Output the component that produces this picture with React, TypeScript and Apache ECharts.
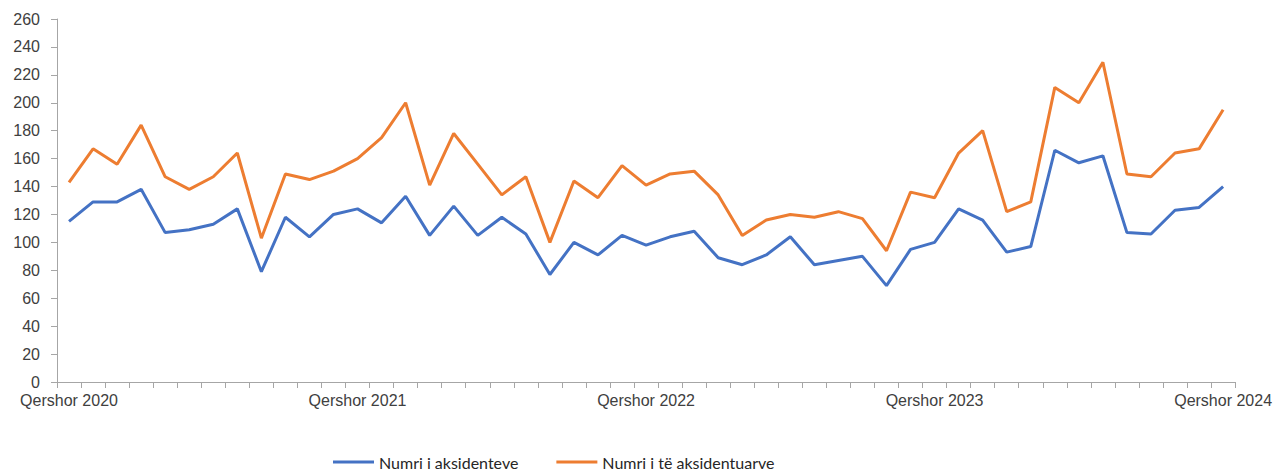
import React, { useEffect, useRef } from "react";
import * as echarts from "echarts";

const months = [
  "Qershor 2020", "Korrik 2020", "Gusht 2020", "Shtator 2020", "Tetor 2020", "Nëntor 2020", "Dhjetor 2020",
  "Janar 2021", "Shkurt 2021", "Mars 2021", "Prill 2021", "Maj 2021",
  "Qershor 2021", "Korrik 2021", "Gusht 2021", "Shtator 2021", "Tetor 2021", "Nëntor 2021", "Dhjetor 2021",
  "Janar 2022", "Shkurt 2022", "Mars 2022", "Prill 2022", "Maj 2022",
  "Qershor 2022", "Korrik 2022", "Gusht 2022", "Shtator 2022", "Tetor 2022", "Nëntor 2022", "Dhjetor 2022",
  "Janar 2023", "Shkurt 2023", "Mars 2023", "Prill 2023", "Maj 2023",
  "Qershor 2023", "Korrik 2023", "Gusht 2023", "Shtator 2023", "Tetor 2023", "Nëntor 2023", "Dhjetor 2023",
  "Janar 2024", "Shkurt 2024", "Mars 2024", "Prill 2024", "Maj 2024",
  "Qershor 2024",
];

const accidents = [
  115, 129, 129, 138, 107, 109, 113, 124, 79, 118, 104, 120,
  124, 114, 133, 105, 126, 105, 118, 106, 77, 100, 91, 105,
  98, 104, 108, 89, 84, 91, 104, 84, 87, 90, 69, 95,
  100, 124, 116, 93, 97, 166, 157, 162, 107, 106, 123, 125,
  140,
];

const injured = [
  143, 167, 156, 184, 147, 138, 147, 164, 103, 149, 145, 151,
  160, 175, 200, 141, 178, 156, 134, 147, 100, 144, 132, 155,
  141, 149, 151, 134, 105, 116, 120, 118, 122, 117, 94, 136,
  132, 164, 180, 122, 129, 211, 200, 229, 149, 147, 164, 167,
  195,
];

const seriesNames = ["Numri i aksidenteve", "Numri i të aksidentuarve"];
const colors = ["#4472C4", "#ED7D31"];

export default function App() {
  const ref = useRef<HTMLDivElement>(null);
  useEffect(() => {
    if (!ref.current) return;
    const chart = echarts.init(ref.current, undefined, { renderer: "svg" });
    chart.setOption({
      animation: false,
      color: colors,
      grid: { left: 49, right: 37, top: 11, bottom: 91, containLabel: false },
      legend: {
        left: 325,
        top: 446,
        padding: 0,
        itemWidth: 41,
        itemHeight: 3,
        itemGap: 38,
        icon: "rect",
        textStyle: { fontFamily: "Lato", fontSize: 16, color: "#262626" },
        data: seriesNames,
      },
      xAxis: {
        type: "category",
        data: months,
        boundaryGap: true,
        axisLine: { lineStyle: { color: "#a6a6a6", width: 1 } },
        axisTick: { show: true, interval: 0, length: 6, lineStyle: { color: "#a6a6a6" } },
        axisLabel: {
          interval: 11,
          margin: 10,
          fontFamily: "Liberation Sans",
          fontSize: 16,
          color: "#404040",
        },
        splitLine: { show: false },
      },
      yAxis: {
        type: "value",
        min: 0,
        max: 260,
        interval: 20,
        axisLine: { show: true, lineStyle: { color: "#a6a6a6", width: 1 } },
        axisTick: { show: true, length: 6, lineStyle: { color: "#a6a6a6" } },
        axisLabel: {
          margin: 17,
          fontFamily: "Liberation Sans",
          fontSize: 16,
          color: "#404040",
        },
        splitLine: { show: false },
      },
      series: [
        {
          name: seriesNames[0],
          type: "line",
          data: accidents,
          symbol: "none",
          lineStyle: { width: 3, color: colors[0] },
          itemStyle: { color: colors[0] },
        },
        {
          name: seriesNames[1],
          type: "line",
          data: injured,
          symbol: "none",
          lineStyle: { width: 3, color: colors[1] },
          itemStyle: { color: colors[1] },
        },
      ],
    });
    return () => chart.dispose();
  }, []);
  return <div ref={ref} style={{ width: 1267, height: 465 }} />;
}
